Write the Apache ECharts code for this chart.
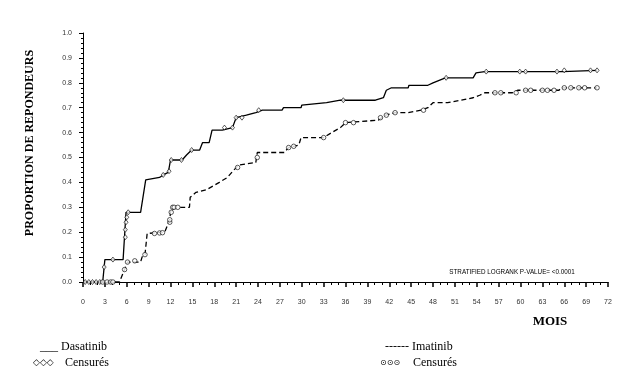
<!DOCTYPE html>
<html>
<head>
<meta charset="utf-8">
<script src="https://cdn.jsdelivr.net/npm/echarts@6/dist/echarts.min.js"></script>
<style>
  html, body { margin: 0; padding: 0; background: #fff; }
  #chart { width: 630px; height: 378px; }
</style>
</head>
<body>
<div id="chart"></div>
<script>
const chartDom = document.querySelector('#chart')
let chart = echarts.init(chartDom)

// x ticks (mois)
const xTicks = [0, 3, 6, 9, 12, 15, 18, 21, 24, 27, 30, 33, 36, 39, 42, 45, 48, 51, 54, 57, 60, 63, 66, 69, 72]

// curve vertices [mois, proportion]
const dasatinibCurve = [
    [0, 0], [2.7, 0], [3.0, 0.09], [5.5, 0.09], [5.9, 0.28], [7.9, 0.28], [8.6, 0.41],
    [10.5, 0.42], [11, 0.43], [11.7, 0.44], [12, 0.49], [13.6, 0.49], [14.2, 0.51],
    [14.9, 0.53], [16.0, 0.53], [16.4, 0.56], [17.3, 0.56], [17.7, 0.61], [19.1, 0.61],
    [20.5, 0.62], [21, 0.66], [22.4, 0.67], [23.7, 0.68], [24.6, 0.69], [27.3, 0.69],
    [27.5, 0.70], [29.9, 0.70], [30, 0.71], [33.4, 0.72], [35.3, 0.73], [40.1, 0.73],
    [41.2, 0.74], [41.6, 0.77], [42.3, 0.78], [44.6, 0.78], [44.7, 0.79], [47.3, 0.79],
    [48, 0.80], [49.7, 0.82], [53.5, 0.82], [53.9, 0.84], [55.1, 0.845], [65.8, 0.845],
    [65.9, 0.85], [70.5, 0.85]
]

const imatinibCurve = [
    [0, 0], [5, 0], [5.7, 0.05], [6.1, 0.08], [7.9, 0.08], [8.1, 0.10], [8.5, 0.11],
    [8.8, 0.195], [11.2, 0.20], [11.9, 0.25], [12.0, 0.28], [12.1, 0.29], [12.8, 0.30],
    [14.6, 0.30], [14.7, 0.34], [15.5, 0.36], [16.9, 0.37], [18.7, 0.40], [19.8, 0.42],
    [20.7, 0.45], [21.4, 0.47], [23.7, 0.48], [23.9, 0.52], [27.6, 0.52], [28.2, 0.54],
    [29.6, 0.55], [29.9, 0.58], [33, 0.58], [34.1, 0.60], [35.3, 0.62], [36, 0.64],
    [40.5, 0.65], [41.5, 0.67], [42.8, 0.68], [44.6, 0.68], [46.4, 0.69], [47.3, 0.70],
    [48, 0.72], [50, 0.72], [51.8, 0.73], [53.5, 0.74], [54.4, 0.75], [55.1, 0.76],
    [58.9, 0.76], [59.6, 0.77], [65.3, 0.77], [65.5, 0.78], [70.5, 0.78]
]

// censored patients
const dasatinibCensored = [
    [0.3, 0], [0.8, 0], [1.3, 0], [1.8, 0], [2.3, 0], [2.9, 0.06], [4.1, 0.09],
    [5.8, 0.18], [5.8, 0.21], [5.9, 0.24], [6.0, 0.26], [6.2, 0.28], [11, 0.43],
    [11.8, 0.445], [12.1, 0.49], [13.5, 0.49], [14.9, 0.53], [19.4, 0.62], [20.5, 0.62],
    [21, 0.66], [21.8, 0.66], [24.1, 0.69], [35.7, 0.73], [49.8, 0.82], [55.3, 0.845],
    [59.9, 0.845], [60.7, 0.845], [65, 0.845], [66, 0.85], [69.6, 0.85], [70.5, 0.85]
]

const imatinibCensored = [
    [2.7, 0], [3.3, 0], [3.8, 0], [4.1, 0], [5.7, 0.05], [6.1, 0.08], [7.1, 0.085],
    [8.5, 0.11], [9.8, 0.195], [10.5, 0.197], [10.9, 0.198], [11.9, 0.24], [11.9, 0.25],
    [12.1, 0.28], [12.3, 0.30], [12.5, 0.30], [13, 0.30], [21.2, 0.46], [23.9, 0.50],
    [28.2, 0.54], [28.9, 0.545], [33, 0.58], [36, 0.64], [37.1, 0.64], [40.8, 0.66],
    [41.6, 0.67], [42.8, 0.68], [46.7, 0.69], [56.5, 0.76], [57.3, 0.76], [59.4, 0.76],
    [60.7, 0.77], [61.4, 0.77], [63, 0.77], [63.7, 0.77], [64.6, 0.77], [66, 0.78],
    [66.9, 0.78], [68, 0.78], [68.8, 0.78], [70.5, 0.78]
]

const serif = '"Liberation Serif", "Times New Roman", serif'
const sans = '"Liberation Sans", Arial, sans-serif'

function plainText(x, y, text, font) {
    return {
        type: 'text',
        x: x,
        y: y,
        style: {
            text: text,
            font: font,
            fill: '#000',
            textVerticalAlign: 'middle'
        }
    }
}

let option = {
    animation: false,
    backgroundColor: '#fff',
    grid: {
        left: 83,
        right: 22,
        top: 33,
        bottom: 96
    },
    xAxis: {
        type: 'value',
        min: 0,
        max: 72,
        interval: 3,
        offset: 7,
        axisLine: { lineStyle: { color: '#000', width: 1 } },
        axisTick: { length: 5, lineStyle: { color: '#000', width: 1.5 } },
        minorTick: { show: true, splitNumber: 3, length: 3, lineStyle: { color: '#000' } },
        axisLabel: {
            color: '#333',
            fontSize: 7,
            fontFamily: sans,
            margin: 10,
            customValues: xTicks
        },
        splitLine: { show: false }
    },
    yAxis: {
        type: 'value',
        min: 0,
        max: 1,
        interval: 0.1,
        offset: 5,
        axisLine: { show: true, lineStyle: { color: '#000', width: 1 } },
        axisTick: { show: true, length: 4, lineStyle: { color: '#000' } },
        minorTick: { show: true, splitNumber: 5, length: 2, lineStyle: { color: '#000' } },
        axisLabel: {
            color: '#333',
            fontSize: 7,
            fontFamily: sans,
            margin: 6,
            formatter: v => v.toFixed(1)
        },
        splitLine: { show: false }
    },
    series: [
        {
            name: 'Dasatinib',
            type: 'line',
            data: dasatinibCurve,
            showSymbol: false,
            lineStyle: { color: '#000', width: 1.3 },
            z: 3
        },
        {
            name: 'Imatinib',
            type: 'line',
            data: imatinibCurve,
            showSymbol: false,
            lineStyle: { color: '#000', width: 1.3, type: [5, 3] },
            z: 3
        },
        {
            name: 'Censurés Dasatinib',
            type: 'scatter',
            data: dasatinibCensored,
            symbol: 'diamond',
            symbolSize: [4, 5],
            itemStyle: { color: '#fff', borderColor: '#000', borderWidth: 0.8 },
            z: 4
        },
        {
            name: 'Censurés Imatinib',
            type: 'scatter',
            data: imatinibCensored,
            symbol: 'circle',
            symbolSize: 4.5,
            itemStyle: { color: '#fff', borderColor: '#000', borderWidth: 0.8 },
            z: 4
        }
    ],
    graphic: [
        {
            type: 'text',
            x: 30,
            y: 143,
            rotation: Math.PI / 2,
            style: {
                text: 'PROPORTION DE REPONDEURS',
                font: 'bold 12px ' + serif,
                fill: '#000',
                textAlign: 'center',
                textVerticalAlign: 'middle'
            }
        },
        {
            type: 'text',
            x: 550,
            y: 322,
            style: {
                text: 'MOIS',
                font: 'bold 13px ' + serif,
                fill: '#000',
                textAlign: 'center',
                textVerticalAlign: 'middle'
            }
        },
        {
            type: 'text',
            x: 512,
            y: 272,
            style: {
                text: 'STRATIFIED LOGRANK P-VALUE= <0.0001',
                font: '6.3px ' + sans,
                fill: '#000',
                textAlign: 'center',
                textVerticalAlign: 'middle'
            }
        },
        plainText(40, 347, '___ Dasatinib', '12px ' + serif),
        plainText(33, 363, '◇◇◇', '9px "DejaVu Sans", sans-serif'),
        plainText(65, 363, 'Censurés', '12px ' + serif),
        plainText(385, 347, '------ Imatinib', '12px ' + serif),
        plainText(380, 363, '⊙⊙⊙', '8px "DejaVu Sans", sans-serif'),
        plainText(413, 363, 'Censurés', '12px ' + serif)
    ]
}

chart.setOption(option)
</script>
</body>
</html>
